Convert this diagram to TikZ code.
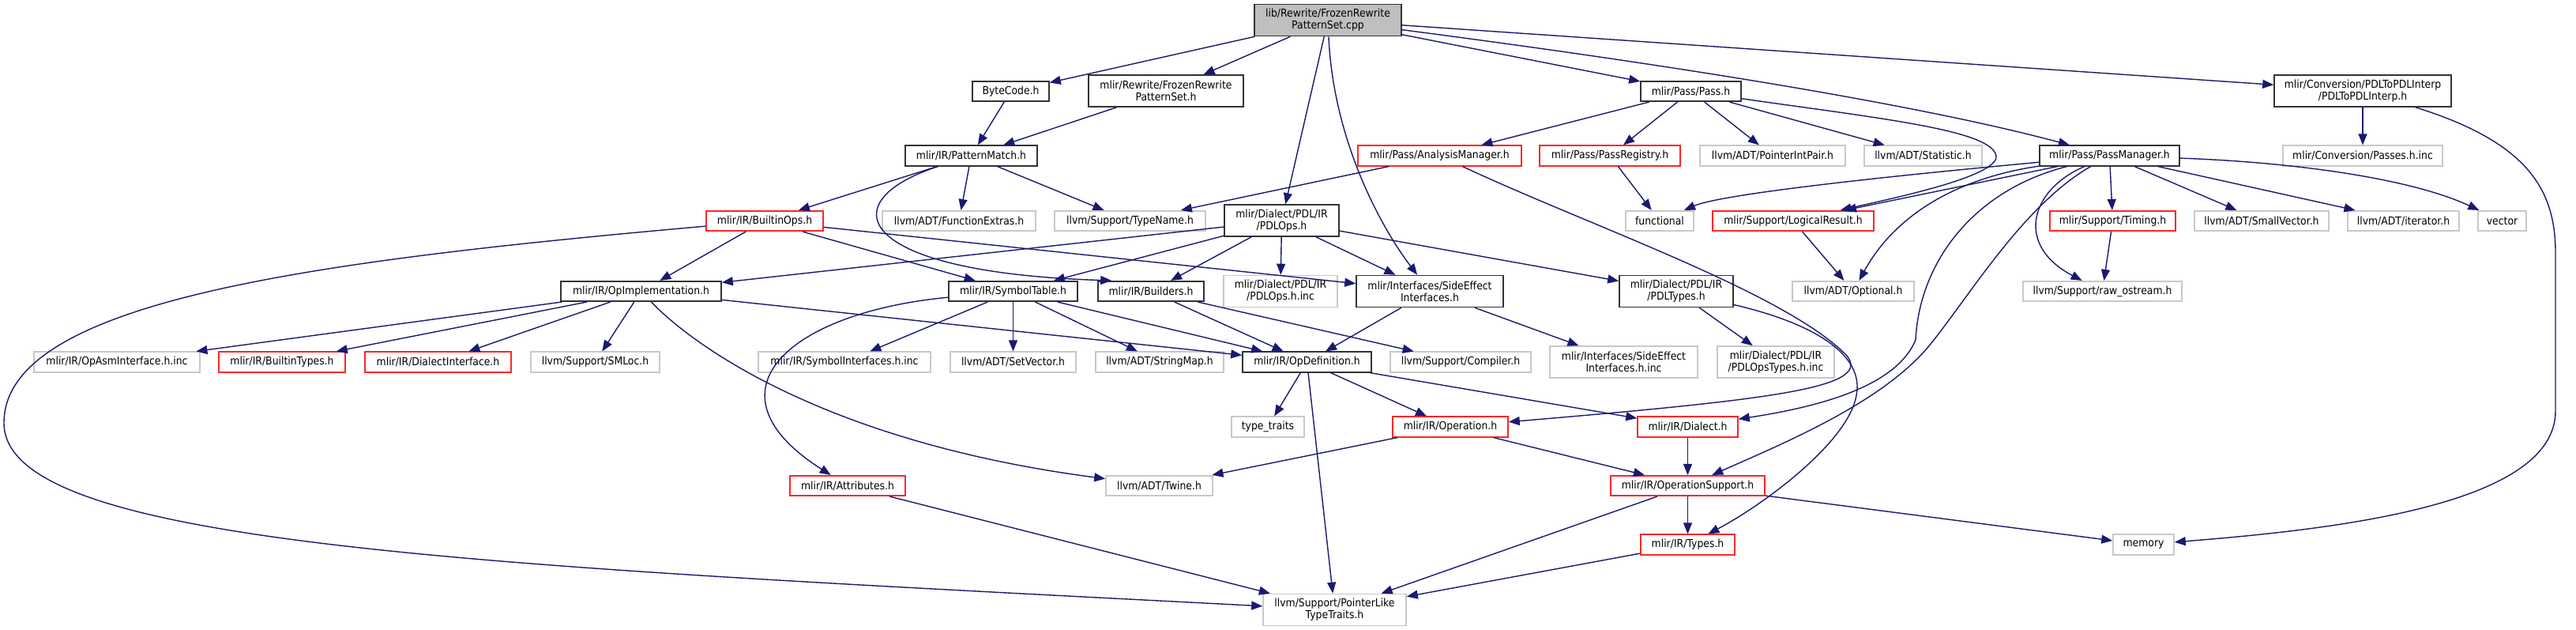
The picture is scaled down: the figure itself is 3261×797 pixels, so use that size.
\documentclass[tikz,border=0pt]{standalone}
\usepackage{fontspec}
\setmainfont{DejaVu Sans}[FakeStretch=0.9]
\usetikzlibrary{arrows.meta}
\definecolor{EdgeBlue}{HTML}{191970}
\definecolor{BoxInk}{HTML}{333333}
\definecolor{BoxRed}{HTML}{FF2626}
\definecolor{BoxGrey}{HTML}{C8C8C8}
\definecolor{RootFill}{HTML}{BFBFBF}
\tikzset{
  every node/.style={font=\fontsize{13.8}{15}\selectfont, text=black},
  file/.style={rectangle, inner sep=0pt, minimum height=25.5pt, line width=1.6pt, fill=white, align=center},
  header/.style={file, draw=BoxInk},
  truncated/.style={file, draw=BoxRed},
  external/.style={file, draw=BoxGrey},
  root/.style={file, draw=BoxInk, fill=RootFill},
  twolines/.style={minimum height=40pt},
  dep/.style={-{Triangle[length=14pt,width=11pt]}, draw=EdgeBlue, line width=1.4pt},
}
\begin{document}
\begin{tikzpicture}[x=1pt,y=-1pt]
  \useasboundingbox (0,0) rectangle (3261,797);
  % rows of the include graph, top to bottom
  \node[root, twolines, minimum width=186pt] (root) at (1681,25.5) {lib/Rewrite/FrozenRewrite\\PatternSet.cpp};

  \node[header, minimum width=97pt] (bytecode) at (1279.5,115.5) {ByteCode.h};
  \node[header, twolines, minimum width=196pt] (frozen) at (1476,115) {mlir/Rewrite/FrozenRewrite\\PatternSet.h};
  \node[header, minimum width=127pt] (pass) at (2140.5,115.5) {mlir/Pass/Pass.h};
  \node[header, twolines, minimum width=224pt] (pdlinterp) at (2991,115) {mlir/Conversion/PDLToPDLInterp\\/PDLToPDLInterp.h};

  \node[header, minimum width=167pt] (patmatch) at (1229.5,197) {mlir/IR/PatternMatch.h};
  \node[truncated, minimum width=207pt] (analysis) at (1822.5,197) {mlir/Pass/AnalysisManager.h};
  \node[truncated, minimum width=178pt] (passreg) at (2038,197) {mlir/Pass/PassRegistry.h};
  \node[external, minimum width=184pt] (ptrint) at (2244,197) {llvm/ADT/PointerIntPair.h};
  \node[external, minimum width=149pt] (statistic) at (2434.5,197) {llvm/ADT/Statistic.h};
  \node[header, minimum width=177pt] (passmgr) at (2670.5,197) {mlir/Pass/PassManager.h};
  \node[external, minimum width=202pt] (passesinc) at (2991,197) {mlir/Conversion/Passes.h.inc};

  \node[truncated, minimum width=148pt] (builtinops) at (968,279.5) {mlir/IR/BuiltinOps.h};
  \node[external, minimum width=194pt] (funcextras) at (1214,279.5) {llvm/ADT/FunctionExtras.h};
  \node[external, minimum width=191pt] (typename) at (1430.5,279.5) {llvm/Support/TypeName.h};
  \node[header, twolines, minimum width=145pt] (pdlops) at (1622.5,279) {mlir/Dialect/PDL/IR\\/PDLOps.h};
  \node[external, minimum width=86pt] (functional) at (2101,279.5) {functional};
  \node[truncated, minimum width=204pt] (logical) at (2270,279.5) {mlir/Support/LogicalResult.h};
  \node[truncated, minimum width=159pt] (timing) at (2674.5,279.5) {mlir/Support/Timing.h};
  \node[external, minimum width=170pt] (smallvec) at (2863,279.5) {llvm/ADT/SmallVector.h};
  \node[external, minimum width=141pt] (iterator) at (3042.5,279.5) {llvm/ADT/iterator.h};
  \node[external, minimum width=61pt] (vector) at (3167.5,279.5) {vector};

  \node[header, minimum width=203pt] (opimpl) at (811.5,368.5) {mlir/IR/OpImplementation.h};
  \node[header, minimum width=163pt] (symtab) at (1282.5,368.5) {mlir/IR/SymbolTable.h};
  \node[header, minimum width=134pt] (builders) at (1457,368.5) {mlir/IR/Builders.h};
  \node[external, twolines, minimum width=144pt] (pdlopsinc) at (1621,368.5) {mlir/Dialect/PDL/IR\\/PDLOps.h.inc};
  \node[header, twolines, minimum width=186pt] (sideeff) at (1810,368.5) {mlir/Interfaces/SideEffect\\Interfaces.h};
  \node[header, twolines, minimum width=144pt] (pdltypes) at (2122,368.5) {mlir/Dialect/PDL/IR\\/PDLTypes.h};
  \node[external, minimum width=154pt] (optional) at (2346,368.5) {llvm/ADT/Optional.h};
  \node[external, minimum width=201pt] (rawos) at (2661.5,368.5) {llvm/Support/raw\_ostream.h};

  \node[external, minimum width=210pt] (opasm) at (148,458) {mlir/IR/OpAsmInterface.h.inc};
  \node[truncated, minimum width=160pt] (builtintypes) at (357,458) {mlir/IR/BuiltinTypes.h};
  \node[truncated, minimum width=185pt] (dialectif) at (554.5,458) {mlir/IR/DialectInterface.h};
  \node[external, minimum width=163pt] (smloc) at (753.5,458) {llvm/Support/SMLoc.h};
  \node[external, minimum width=218pt] (symif) at (1069,458) {mlir/IR/SymbolInterfaces.h.inc};
  \node[external, minimum width=159pt] (setvector) at (1282.5,458) {llvm/ADT/SetVector.h};
  \node[external, minimum width=162pt] (stringmap) at (1468,458) {llvm/ADT/StringMap.h};
  \node[header, minimum width=163pt] (opdef) at (1654.5,458) {mlir/IR/OpDefinition.h};
  \node[external, minimum width=178pt] (compiler) at (1849,458) {llvm/Support/Compiler.h};
  \node[external, twolines, minimum width=187pt] (sideeffinc) at (2055.5,458) {mlir/Interfaces/SideEffect\\Interfaces.h.inc};
  \node[external, twolines, minimum width=148pt] (pdltypesinc) at (2248,458) {mlir/Dialect/PDL/IR\\/PDLOpsTypes.h.inc};

  \node[external, minimum width=92pt] (typetraits) at (1605,540) {type\_traits};
  \node[truncated, minimum width=146pt] (operation) at (1836,540) {mlir/IR/Operation.h};
  \node[truncated, minimum width=127pt] (dialect) at (2136.5,540) {mlir/IR/Dialect.h};

  \node[truncated, minimum width=146pt] (attributes) at (1073,614.5) {mlir/IR/Attributes.h};
  \node[external, minimum width=135pt] (twine) at (1467.5,614.5) {llvm/ADT/Twine.h};
  \node[truncated, minimum width=195pt] (opsupport) at (2136.5,614.5) {mlir/IR/OperationSupport.h};

  \node[truncated, minimum width=119pt] (types) at (2136.5,689) {mlir/IR/Types.h};
  \node[external, minimum width=77pt] (memory) at (2713.5,689) {memory};
  \node[external, twolines, minimum width=181pt] (pointerlike) at (1689.5,771.5) {llvm/Support/PointerLike\\TypeTraits.h};

  % straight includes
  \foreach \a/\b in {root/bytecode, root/frozen, root/pdlops, root/pass, root/pdlinterp,
      bytecode/patmatch, frozen/patmatch, patmatch/builtinops, patmatch/funcextras, patmatch/typename,
      analysis/typename, pass/analysis, pass/passreg, pass/ptrint, pass/statistic,
      passreg/functional, passmgr/logical, passmgr/timing, passmgr/smallvec, passmgr/iterator,
      pdlinterp/passesinc, logical/optional, timing/rawos,
      builtinops/opimpl, builtinops/symtab, builtinops/sideeff,
      pdlops/opimpl, pdlops/symtab, pdlops/builders, pdlops/pdlopsinc, pdlops/sideeff, pdlops/pdltypes,
      opimpl/opasm, opimpl/builtintypes, opimpl/dialectif, opimpl/smloc, opimpl/opdef,
      symtab/symif, symtab/setvector, symtab/stringmap, symtab/opdef,
      builders/opdef, builders/compiler, sideeff/opdef, sideeff/sideeffinc, pdltypes/pdltypesinc,
      opdef/typetraits, opdef/pointerlike, opdef/operation, opdef/dialect,
      operation/twine, operation/opsupport, dialect/opsupport,
      opsupport/types, opsupport/pointerlike, opsupport/memory,
      types/pointerlike, attributes/pointerlike}
    \draw[dep] (\a) -- (\b);

  % bent includes
  \draw[dep] (root) .. controls (1688,180) and (1750,290) .. (sideeff);
  \draw[dep] (root) .. controls (2100,80) and (2420,130) .. (passmgr);
  \draw[dep] (patmatch) .. controls (1050,255) and (1080,345) .. ([xshift=18pt]builders.north west);
  \draw[dep] (builtinops) .. controls (400,330) and (5,380) .. (5,535)
    .. controls (5,690) and (600,715) .. (pointerlike);
  \draw[dep] (symtab) .. controls (1000,395) and (885,495) .. (attributes);
  \draw[dep] (opimpl) .. controls (880,440) and (1050,560) .. (twine);
  \draw[dep] (analysis) .. controls (2010,285) and (2260,370) .. (2338,450)
    .. controls (2370,490) and (2250,505) .. (operation);
  \draw[dep] (pdltypes) .. controls (2300,410) and (2360,450) .. (2350,500)
    .. controls (2340,560) and (2230,640) .. (types);
  \draw[dep] (pass) .. controls (2380,150) and (2530,165) .. (2527,200)
    .. controls (2520,225) and (2400,250) .. (logical);
  \draw[dep] (passmgr) .. controls (2400,222) and (2180,245) .. (functional);
  \draw[dep] (passmgr) .. controls (2480,225) and (2400,270) .. (optional);
  \draw[dep] (passmgr) .. controls (2500,240) and (2430,330) .. (2425,430)
    .. controls (2400,490) and (2300,515) .. (dialect);
  \draw[dep] (passmgr) .. controls (2560,260) and (2490,380) .. (2440,440)
    .. controls (2380,510) and (2260,560) .. (opsupport);
  \draw[dep] (passmgr) .. controls (2570,240) and (2550,310) .. (rawos);
  \draw[dep] (passmgr) .. controls (2900,205) and (3050,225) .. (vector);
  \draw[dep] (pdlinterp) .. controls (3200,180) and (3235,240) .. (3235,320) -- (3235,520)
    .. controls (3235,640) and (2950,670) .. (memory);
\end{tikzpicture}
\end{document}
